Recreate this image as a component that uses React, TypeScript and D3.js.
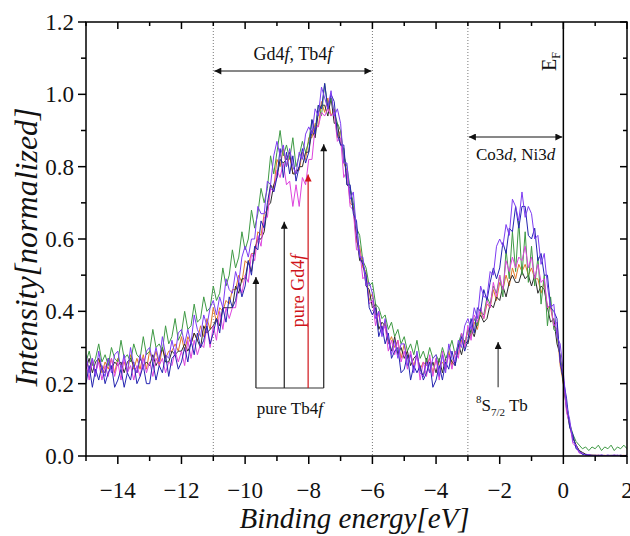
import React from "react";
import * as d3 from "d3";

// Energy grid of the spectra (binding energy, eV)
const energyStart = -15;
const energyStep = 0.1;

// Tick values
const xMajorTicks = [-14, -12, -10, -8, -6, -4, -2, 0, 2];
const xMinorTicks = [-15, -13, -11, -9, -7, -5, -3, -1, 1];
const yMajorTicks = [0, 0.2, 0.4, 0.6, 0.8, 1.0, 1.2];
const yMinorTicks = [0.1, 0.3, 0.5, 0.7, 0.9, 1.1];
const dottedLines = [-11, -6, -3];

// Spectra (normalized intensity) at 0.1 eV steps from -15 to 2 eV
const seriesOrange = [
  0.27, 0.24, 0.26, 0.23, 0.27, 0.23, 0.26, 0.24, 0.27, 0.23,
  0.27, 0.25, 0.26, 0.23, 0.28, 0.24, 0.27, 0.24, 0.28, 0.24,
  0.29, 0.26, 0.29, 0.25, 0.30, 0.27, 0.29, 0.29, 0.31, 0.29,
  0.33, 0.29, 0.33, 0.31, 0.34, 0.32, 0.36, 0.33, 0.38, 0.35,
  0.41, 0.37, 0.41, 0.40, 0.43, 0.42, 0.46, 0.46, 0.50, 0.48,
  0.54, 0.53, 0.56, 0.56, 0.62, 0.61, 0.67, 0.68, 0.75, 0.74,
  0.82, 0.80, 0.85, 0.80, 0.83, 0.78, 0.79, 0.79, 0.84, 0.82,
  0.88, 0.88, 0.92, 0.91, 0.98, 0.95, 0.99, 0.94, 0.96, 0.88,
  0.90, 0.81, 0.79, 0.70, 0.69, 0.59, 0.58, 0.52, 0.51, 0.43,
  0.45, 0.39, 0.39, 0.35, 0.37, 0.31, 0.33, 0.30, 0.32, 0.27,
  0.31, 0.27, 0.28, 0.25, 0.28, 0.24, 0.26, 0.25, 0.27, 0.23,
  0.27, 0.25, 0.26, 0.24, 0.29, 0.25, 0.29, 0.28, 0.32, 0.30,
  0.35, 0.33, 0.37, 0.35, 0.40, 0.38, 0.42, 0.41, 0.46, 0.43,
  0.48, 0.46, 0.50, 0.47, 0.52, 0.49, 0.53, 0.51, 0.53, 0.50,
  0.52, 0.49, 0.49, 0.45, 0.48, 0.41, 0.41, 0.36, 0.35, 0.25,
  0.20, 0.14, 0.09, 0.05, 0.03, 0.015, 0.008, 0.004, 0.003, 0.002,
  0.002, 0.002, 0.001, 0.002, 0.001, 0.001, 0.002, 0.001, 0.001, 0.002, 0.001,
];

const seriesBlack = [
  0.24, 0.27, 0.23, 0.26, 0.27, 0.24, 0.23, 0.27, 0.24, 0.26,
  0.25, 0.26, 0.23, 0.26, 0.27, 0.25, 0.23, 0.27, 0.25, 0.26,
  0.25, 0.28, 0.25, 0.27, 0.30, 0.26, 0.26, 0.29, 0.28, 0.29,
  0.29, 0.31, 0.29, 0.31, 0.34, 0.32, 0.30, 0.36, 0.34, 0.35,
  0.36, 0.38, 0.36, 0.41, 0.41, 0.41, 0.41, 0.47, 0.45, 0.49,
  0.49, 0.54, 0.51, 0.57, 0.60, 0.60, 0.62, 0.69, 0.70, 0.75,
  0.77, 0.82, 0.81, 0.82, 0.84, 0.78, 0.78, 0.80, 0.80, 0.84,
  0.84, 0.90, 0.88, 0.95, 0.97, 0.97, 0.94, 0.99, 0.92, 0.92,
  0.86, 0.85, 0.75, 0.74, 0.68, 0.61, 0.54, 0.54, 0.47, 0.46,
  0.41, 0.42, 0.35, 0.37, 0.36, 0.32, 0.29, 0.33, 0.28, 0.30,
  0.27, 0.29, 0.25, 0.27, 0.28, 0.24, 0.22, 0.27, 0.23, 0.26,
  0.23, 0.27, 0.23, 0.27, 0.28, 0.26, 0.25, 0.31, 0.28, 0.32,
  0.31, 0.35, 0.33, 0.37, 0.39, 0.37, 0.38, 0.42, 0.41, 0.44,
  0.43, 0.47, 0.44, 0.48, 0.50, 0.48, 0.48, 0.51, 0.49, 0.50,
  0.47, 0.50, 0.45, 0.47, 0.46, 0.41, 0.37, 0.38, 0.31, 0.28,
  0.20, 0.13, 0.08, 0.05, 0.03, 0.015, 0.01, 0.005, 0.003, 0.002,
  0.002, 0.001, 0.002, 0.001, 0.001, 0.002, 0.001, 0.001, 0.002, 0.001, 0.001,
];

const seriesGreen = [
  0.26, 0.29, 0.25, 0.27, 0.31, 0.26, 0.28, 0.25, 0.30, 0.27,
  0.26, 0.32, 0.27, 0.28, 0.26, 0.31, 0.28, 0.27, 0.33, 0.28,
  0.29, 0.35, 0.30, 0.31, 0.29, 0.36, 0.31, 0.33, 0.38, 0.32,
  0.34, 0.40, 0.35, 0.36, 0.42, 0.37, 0.38, 0.44, 0.40, 0.41,
  0.47, 0.43, 0.45, 0.52, 0.47, 0.50, 0.57, 0.52, 0.55, 0.62,
  0.57, 0.60, 0.68, 0.63, 0.67, 0.74, 0.70, 0.74, 0.83, 0.78,
  0.84, 0.90, 0.83, 0.86, 0.82, 0.88, 0.80, 0.83, 0.87, 0.84,
  0.87, 0.93, 0.90, 0.97, 0.94, 1.03, 0.96, 0.99, 0.95, 0.92,
  0.90, 0.83, 0.80, 0.74, 0.70, 0.63, 0.61, 0.54, 0.52, 0.47,
  0.48, 0.42, 0.41, 0.38, 0.39, 0.35, 0.37, 0.33, 0.35, 0.31,
  0.33, 0.29, 0.31, 0.28, 0.32, 0.27, 0.29, 0.26, 0.30, 0.27,
  0.28, 0.26, 0.30, 0.27, 0.29, 0.32, 0.28, 0.31, 0.34, 0.31,
  0.35, 0.34, 0.38, 0.36, 0.40, 0.39, 0.44, 0.42, 0.47, 0.45,
  0.50, 0.44, 0.57, 0.49, 0.62, 0.51, 0.65, 0.50, 0.62, 0.48,
  0.58, 0.47, 0.55, 0.42, 0.50, 0.36, 0.44, 0.35, 0.34, 0.27,
  0.21, 0.14, 0.09, 0.06, 0.04, 0.03, 0.02, 0.025, 0.015, 0.025,
  0.02, 0.03, 0.015, 0.025, 0.02, 0.03, 0.015, 0.025, 0.02, 0.03, 0.02,
];

const seriesMagenta = [
  0.26, 0.21, 0.27, 0.23, 0.26, 0.21, 0.25, 0.22, 0.27, 0.22,
  0.26, 0.21, 0.27, 0.23, 0.25, 0.21, 0.25, 0.22, 0.27, 0.23,
  0.26, 0.22, 0.27, 0.25, 0.27, 0.23, 0.26, 0.25, 0.29, 0.26,
  0.29, 0.25, 0.32, 0.27, 0.32, 0.28, 0.31, 0.30, 0.36, 0.30,
  0.36, 0.32, 0.40, 0.35, 0.41, 0.38, 0.41, 0.41, 0.48, 0.45,
  0.50, 0.48, 0.56, 0.54, 0.61, 0.58, 0.66, 0.66, 0.74, 0.73,
  0.79, 0.77, 0.81, 0.75, 0.76, 0.69, 0.75, 0.69, 0.77, 0.75,
  0.82, 0.82, 0.91, 0.91, 0.95, 0.94, 0.96, 0.94, 0.95, 0.87,
  0.88, 0.77, 0.79, 0.69, 0.68, 0.57, 0.57, 0.49, 0.50, 0.42,
  0.43, 0.36, 0.40, 0.34, 0.36, 0.29, 0.32, 0.28, 0.32, 0.26,
  0.29, 0.24, 0.29, 0.24, 0.28, 0.21, 0.26, 0.22, 0.28, 0.22,
  0.27, 0.21, 0.29, 0.24, 0.28, 0.24, 0.29, 0.27, 0.34, 0.30,
  0.36, 0.32, 0.39, 0.37, 0.41, 0.38, 0.43, 0.41, 0.48, 0.44,
  0.50, 0.46, 0.54, 0.51, 0.55, 0.52, 0.55, 0.54, 0.58, 0.52,
  0.55, 0.49, 0.53, 0.48, 0.49, 0.41, 0.42, 0.36, 0.37, 0.26,
  0.22, 0.12, 0.09, 0.035, 0.025, 0.008, 0.006, 0.002, 0.003, 0.001,
  0.001, 0.002, 0.001, 0.001, 0.002, 0.001, 0.001, 0.002, 0.001, 0.001, 0.001,
];

const seriesBlue = [
  0.20, 0.25, 0.19, 0.24, 0.21, 0.25, 0.20, 0.23, 0.25, 0.19,
  0.21, 0.24, 0.19, 0.23, 0.21, 0.26, 0.20, 0.22, 0.25, 0.20,
  0.20, 0.26, 0.21, 0.25, 0.23, 0.28, 0.22, 0.27, 0.28, 0.24,
  0.26, 0.30, 0.26, 0.32, 0.28, 0.34, 0.30, 0.32, 0.36, 0.31,
  0.34, 0.38, 0.34, 0.41, 0.37, 0.44, 0.41, 0.43, 0.48, 0.44,
  0.47, 0.54, 0.50, 0.58, 0.57, 0.65, 0.63, 0.70, 0.75, 0.73,
  0.77, 0.85, 0.77, 0.84, 0.78, 0.83, 0.76, 0.80, 0.85, 0.81,
  0.84, 0.93, 0.89, 0.97, 0.96, 1.03, 0.96, 1.00, 0.98, 0.89,
  0.86, 0.86, 0.75, 0.75, 0.67, 0.65, 0.55, 0.53, 0.50, 0.41,
  0.39, 0.41, 0.33, 0.36, 0.31, 0.34, 0.27, 0.29, 0.30, 0.23,
  0.24, 0.28, 0.21, 0.25, 0.23, 0.25, 0.21, 0.23, 0.26, 0.19,
  0.21, 0.25, 0.21, 0.26, 0.24, 0.29, 0.25, 0.30, 0.33, 0.29,
  0.32, 0.38, 0.34, 0.41, 0.40, 0.46, 0.43, 0.48, 0.52, 0.49,
  0.52, 0.59, 0.56, 0.63, 0.62, 0.69, 0.63, 0.69, 0.69, 0.61,
  0.60, 0.63, 0.54, 0.56, 0.50, 0.50, 0.41, 0.40, 0.38, 0.26,
  0.21, 0.16, 0.08, 0.06, 0.02, 0.015, 0.004, 0.004, 0.001, 0.002,
  0.001, 0.002, 0.001, 0.001, 0.002, 0.001, 0.001, 0.002, 0.001, 0.001, 0.002,
];

const seriesPurple = [
  0.28, 0.23, 0.27, 0.22, 0.29, 0.24, 0.22, 0.27, 0.23, 0.28,
  0.29, 0.24, 0.28, 0.23, 0.30, 0.25, 0.23, 0.28, 0.24, 0.29,
  0.30, 0.26, 0.30, 0.26, 0.33, 0.28, 0.27, 0.32, 0.28, 0.34,
  0.35, 0.31, 0.35, 0.31, 0.39, 0.35, 0.33, 0.39, 0.36, 0.41,
  0.43, 0.39, 0.44, 0.41, 0.49, 0.46, 0.45, 0.51, 0.48, 0.55,
  0.58, 0.55, 0.60, 0.60, 0.69, 0.67, 0.67, 0.76, 0.75, 0.83,
  0.87, 0.83, 0.86, 0.80, 0.85, 0.80, 0.78, 0.84, 0.82, 0.89,
  0.91, 0.89, 0.96, 0.94, 1.02, 0.99, 0.96, 1.01, 0.94, 0.96,
  0.92, 0.81, 0.81, 0.71, 0.73, 0.62, 0.55, 0.55, 0.47, 0.48,
  0.45, 0.38, 0.40, 0.33, 0.38, 0.32, 0.28, 0.32, 0.27, 0.31,
  0.31, 0.25, 0.28, 0.23, 0.29, 0.23, 0.22, 0.26, 0.23, 0.27,
  0.28, 0.22, 0.28, 0.23, 0.31, 0.27, 0.26, 0.32, 0.30, 0.36,
  0.38, 0.35, 0.41, 0.38, 0.47, 0.44, 0.44, 0.51, 0.50, 0.58,
  0.60, 0.58, 0.64, 0.61, 0.71, 0.69, 0.65, 0.73, 0.66, 0.69,
  0.67, 0.60, 0.61, 0.53, 0.56, 0.47, 0.41, 0.42, 0.33, 0.31,
  0.23, 0.14, 0.10, 0.04, 0.03, 0.01, 0.008, 0.002, 0.004, 0.001,
  0.002, 0.001, 0.003, 0.001, 0.002, 0.001, 0.003, 0.001, 0.002, 0.001, 0.002,
];

const spectra = [
  { name: "orange", color: "#e07a2a", values: seriesOrange },
  { name: "black", color: "#2a2a2a", values: seriesBlack },
  { name: "green", color: "#3f9a45", values: seriesGreen },
  { name: "magenta", color: "#dd44dd", values: seriesMagenta },
  { name: "blue", color: "#2424b0", values: seriesBlue },
  { name: "purple", color: "#7d3cf2", values: seriesPurple },
];

// Annotation arrows (energy, tip intensity)
const tb4fArrows = [
  { e: -9.66, tip: 0.495, color: "#222" },
  { e: -8.77, tip: 0.648, color: "#222" },
  { e: -8.02, tip: 0.778, color: "#d0141a" },
  { e: -7.53, tip: 0.862, color: "#222" },
];
const arrowBase = 0.188;

const W = 630;
const H = 536;
const L = 86;
const R = 627;
const T = 22;
const B = 456;

const SERIF = "'Liberation Serif', 'Times New Roman', serif";

export default function App() {
  const x = d3.scaleLinear().domain([-15, 2]).range([L, R]);
  const y = d3.scaleLinear().domain([0, 1.2]).range([B, T]);
  const line = d3
    .line<number>()
    .x((_, i) => x(energyStart + i * energyStep))
    .y((d) => y(d));
  const fmtY = d3.format(".1f");
  const fmtX = d3.format("d");

  return (
    <div style={{ position: "absolute", left: 0, top: 0 }}>
      <svg width={W} height={H} style={{ display: "block", background: "#fff" }} fontFamily={SERIF}>
        <defs>
          <clipPath id="plot">
            <rect x={L} y={T} width={R - L} height={B - T} />
          </clipPath>
          <marker id="ah" viewBox="0 0 10 10" refX="10" refY="5" markerWidth="11" markerHeight="7"
            markerUnits="userSpaceOnUse" orient="auto-start-reverse">
            <path d="M0,0 L10,5 L0,10 z" fill="#111" />
          </marker>
          <marker id="ahv" viewBox="0 0 10 10" refX="10" refY="5" markerWidth="11" markerHeight="7"
            markerUnits="userSpaceOnUse" orient="auto-start-reverse">
            <path d="M0,0 L10,5 L0,10 z" fill="#111" />
          </marker>
          <marker id="ahr" viewBox="0 0 10 10" refX="10" refY="5" markerWidth="11" markerHeight="7"
            markerUnits="userSpaceOnUse" orient="auto-start-reverse">
            <path d="M0,0 L10,5 L0,10 z" fill="#d0141a" />
          </marker>
        </defs>

        {/* dotted guide lines */}
        {dottedLines.map((e) => (
          <line key={e} x1={x(e)} x2={x(e)} y1={T} y2={B} stroke="#777" strokeWidth={1}
            strokeDasharray="1,2" />
        ))}

        {/* spectra */}
        <g clipPath="url(#plot)">
          {spectra.map((s) => (
            <path key={s.name} d={line(s.values) || ""} fill="none" stroke={s.color}
              strokeWidth={1} strokeLinejoin="round" />
          ))}
        </g>

        {/* Fermi level */}
        <line x1={x(0)} x2={x(0)} y1={T} y2={B} stroke="#000" strokeWidth={1.5} />

        {/* frame */}
        <rect x={L} y={T} width={R - L} height={B - T} fill="none" stroke="#000" strokeWidth={1.5} />

        {/* x ticks */}
        {xMajorTicks.map((t) => (
          <g key={"xM" + t}>
            <line x1={x(t)} x2={x(t)} y1={B} y2={B + 8} stroke="#000" strokeWidth={1.5} />
            <line x1={x(t)} x2={x(t)} y1={T} y2={T + 7} stroke="#000" strokeWidth={1.5} />
            <text x={x(t)} y={B + 42} textAnchor="middle" fontSize={23} fill="#111">
              {fmtX(t)}
            </text>
          </g>
        ))}
        {xMinorTicks.map((t) => (
          <g key={"xm" + t}>
            <line x1={x(t)} x2={x(t)} y1={B} y2={B + 5} stroke="#000" strokeWidth={1.5} />
            <line x1={x(t)} x2={x(t)} y1={T} y2={T + 4} stroke="#000" strokeWidth={1.5} />
          </g>
        ))}

        {/* y ticks */}
        {yMajorTicks.map((t) => (
          <g key={"yM" + t}>
            <line x1={L - 8} x2={L} y1={y(t)} y2={y(t)} stroke="#000" strokeWidth={1.5} />
            <line x1={R - 7} x2={R} y1={y(t)} y2={y(t)} stroke="#000" strokeWidth={1.5} />
            <text x={L - 12} y={y(t) + 8} textAnchor="end" fontSize={23} fill="#111">
              {fmtY(t)}
            </text>
          </g>
        ))}
        {yMinorTicks.map((t) => (
          <g key={"ym" + t}>
            <line x1={L - 5} x2={L} y1={y(t)} y2={y(t)} stroke="#000" strokeWidth={1.5} />
            <line x1={R - 4} x2={R} y1={y(t)} y2={y(t)} stroke="#000" strokeWidth={1.5} />
          </g>
        ))}

        {/* axis titles */}
        <text x={(L + R) / 2 - 2} y={528} textAnchor="middle" fontSize={29} fontStyle="italic" fill="#111">
          Binding energy[eV]
        </text>
        <text transform={`translate(37, 247) rotate(-90)`} textAnchor="middle"
          fontSize={32} fontStyle="italic" fill="#111">
          Intensity[normalized]
        </text>

        {/* Gd4f, Tb4f region */}
        <line x1={x(-11) + 1} x2={x(-6) - 1} y1={71} y2={71} stroke="#111" strokeWidth={1}
          markerStart="url(#ah)" markerEnd="url(#ah)" />
        <text x={(x(-11) + x(-6)) / 2} y={60} textAnchor="middle" fontSize={18} fill="#111">
          Gd4<tspan fontStyle="italic">f</tspan>, Tb4<tspan fontStyle="italic">f</tspan>
        </text>

        {/* Co3d, Ni3d region */}
        <line x1={x(-3) + 1} x2={x(0) - 1} y1={137} y2={137} stroke="#111" strokeWidth={1}
          markerStart="url(#ah)" markerEnd="url(#ah)" />
        <text x={(x(-3) + x(0)) / 2} y={160} textAnchor="middle" fontSize={17} fill="#111">
          Co3<tspan fontStyle="italic">d</tspan>, Ni3<tspan fontStyle="italic">d</tspan>
        </text>

        {/* E_F */}
        <text transform={`translate(${x(0) - 7}, 71) rotate(-90)`} fontSize={20} fill="#111">
          E<tspan fontSize={12} dy={4}>F</tspan>
        </text>

        {/* pure Tb4f / Gd4f arrows */}
        <line x1={x(tb4fArrows[0].e)} x2={x(tb4fArrows[3].e)} y1={y(arrowBase)} y2={y(arrowBase)}
          stroke="#333" strokeWidth={1.2} />
        {tb4fArrows.map((a) => (
          <line key={a.e} x1={x(a.e)} x2={x(a.e)} y1={y(arrowBase)} y2={y(a.tip)}
            stroke={a.color} strokeWidth={1.2}
            markerEnd={a.color === "#222" ? "url(#ahv)" : "url(#ahr)"} />
        ))}
        <text x={(x(tb4fArrows[0].e) + x(tb4fArrows[3].e)) / 2} y={414} textAnchor="middle"
          fontSize={17} fill="#111">
          pure Tb4<tspan fontStyle="italic">f</tspan>
        </text>
        <text transform={`translate(${x(tb4fArrows[2].e) - 4}, 291) rotate(-90)`} textAnchor="middle"
          fontSize={18} fill="#d0141a">
          pure Gd4<tspan fontStyle="italic">f</tspan>
        </text>

        {/* 8S7/2 Tb */}
        <line x1={x(-2.05)} x2={x(-2.05)} y1={y(0.19)} y2={y(0.315)} stroke="#333" strokeWidth={1.1}
          markerEnd="url(#ahv)" />
        <text x={476} y={411} fontSize={17} fill="#111">
          <tspan fontSize={11} dy={-8}>8</tspan>
          <tspan dy={8}>S</tspan>
          <tspan fontSize={11} dy={5}>7/2</tspan>
          <tspan dy={-5}> Tb</tspan>
        </text>
      </svg>
    </div>
  );
}
